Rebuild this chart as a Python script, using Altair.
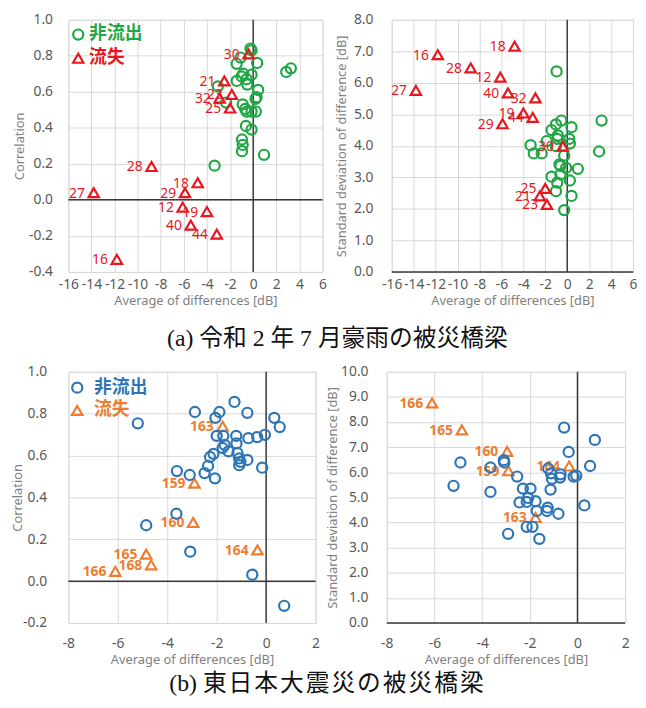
import altair as alt
import pandas as pd

# ---------------- (a) 令和2年7月豪雨 ----------------
a_loss_id = ["12", "16", "18", "19", "21", "23", "25", "27", "28", "29", "30", "32", "40", "44"]
a_loss_avg = [-6.1, -11.8, -4.8, -4.0, -2.5, -1.85, -2.0, -13.8, -8.8, -5.9, -0.4, -2.9, -5.4, -3.15]
a_loss_corr = [-0.04, -0.33, 0.095, -0.065, 0.66, 0.585, 0.51, 0.04, 0.185, 0.04, 0.81, 0.565, -0.14, -0.19]
a_loss_sd = [6.18, 6.89, 7.16, 5.04, 2.41, 2.14, 2.65, 5.76, 6.47, 4.70, 3.99, 5.52, 5.68, 4.90]

a_non_avg_c = [-0.23, -0.14, -1.09, -1.43, 0.34, -0.86, -0.14, -1.0, -1.43, -0.57, -0.51, -3.06, 0.43,
               0.29, 0.2, -2.34, -0.91, -0.69, -0.57, 0.23, -0.14, -0.63, -0.14, -0.97, -0.91, -0.97,
               0.94, -3.34, 2.86, 3.26]
a_non_corr = [0.84, 0.83, 0.79, 0.755, 0.76, 0.70, 0.695, 0.685, 0.66, 0.67, 0.64, 0.63, 0.61,
              0.57, 0.56, 0.54, 0.53, 0.505, 0.49, 0.49, 0.49, 0.41, 0.39, 0.335, 0.305, 0.27,
              0.25, 0.19, 0.71, 0.73]

a_non_avg_s = [-0.97, 3.13, 2.9, 0.39, -0.54, -1.03, -1.43, -0.86, -0.91, 0.18, -1.87, -1.03, 0.24,
               -3.34, -3.05, -2.33, -0.28, -0.71, -0.62, -0.1, 0.97, -1.43, -0.62, 0.24, -0.91,
               -1.03, 0.39, -0.28]
a_non_sd = [6.36, 4.80, 3.82, 4.59, 4.80, 4.68, 4.50, 4.33, 4.22, 4.22, 4.15, 3.99, 4.07,
            4.02, 3.76, 3.76, 3.69, 3.41, 3.36, 3.30, 3.27, 3.02, 3.09, 2.90, 2.83,
            2.56, 2.41, 1.96]

# ---------------- (b) 東日本大震災 ----------------
b_loss_id = ["159", "160", "163", "164", "165", "166", "168"]
b_loss_avg = [-2.9, -2.95, -1.76, -0.35, -4.85, -6.1, -4.65]
b_loss_corr = [0.468, 0.28, 0.74, 0.149, 0.129, 0.047, 0.078]
b_loss_sd = [6.06, 6.83, 4.20, 6.25, 7.69, 8.76, None]

b_non_avg_c = [-1.28, -2.88, -1.89, -0.76, -2.05, 0.33, 0.55, -5.19, -2.0, -1.73, -1.21, -0.72,
               -0.36, -0.05, -1.2, -1.68, -1.76, -1.52, -2.13, -2.27, -1.16, -1.09, -0.76, -1.09,
               -1.04, -2.35, -0.16, -2.49, -3.61, -3.09, -2.07, -3.63, -4.85, -3.07, -0.56, 0.73]
b_non_corr = [0.856, 0.808, 0.808, 0.804, 0.78, 0.78, 0.736, 0.754, 0.694, 0.694, 0.694, 0.683,
              0.688, 0.699, 0.658, 0.651, 0.636, 0.62, 0.608, 0.593, 0.612, 0.586, 0.579, 0.554,
              0.57, 0.55, 0.542, 0.516, 0.526, 0.507, 0.491, 0.322, 0.267, 0.141, 0.031, -0.118]

b_non_avg_s = [-0.56, 0.73, -0.37, -4.91, -3.09, -3.07, -3.65, 0.53, -1.23, -1.11, -0.71, -0.73,
               -1.07, -0.16, -0.05, -2.53, -5.2, -3.65, -2.29, -1.97, -1.13, -1.76, -2.13, -2.43,
               -1.71, -1.25, -1.28, -0.8, 0.29, -2.13, -1.89, -2.91, -1.6, -2.07]
b_non_sd = [7.78, 7.29, 6.81, 6.39, 6.48, 6.39, 6.19, 6.25, 6.15, 5.96, 5.92, 5.79,
            5.74, 5.83, 5.87, 5.83, 5.46, 5.22, 5.35, 5.35, 5.31, 4.85, 4.82, 4.80,
            4.46, 4.59, 4.46, 4.35, 4.68, 3.83, 3.83, 3.55, 3.35, 4.98]

# ticks
x_ticks_a = [-16, -14, -12, -10, -8, -6, -4, -2, 0, 2, 4, 6]
x_ticks_b = [-8, -6, -4, -2, 0, 2]
y_corr_a = [-0.4, -0.2, 0.0, 0.2, 0.4, 0.6, 0.8, 1.0]
y_corr_b = [-0.2, 0.0, 0.2, 0.4, 0.6, 0.8, 1.0]
y_sd_a = [0, 1, 2, 3, 4, 5, 6, 7, 8]
y_sd_b = [0, 1, 2, 3, 4, 5, 6, 7, 8, 9, 10]

series_names = ["非流出", "流失"]
caption_a = "(a)  令和 2 年 7 月豪雨の被災橋梁"
caption_b = "(b)  東\u200a日\u200a本\u200a大\u200a震\u200a災\u200aの\u200a被\u200a災\u200a橋\u200a梁"

GREEN, RED = "#1FA745", "#E8161F"
BLUE, ORANGE = "#2E75B6", "#ED7D31"
FONT = "Noto Sans, Noto Sans CJK JP"
CJK = "Noto Sans CJK JP"
LABEL_C = "#595959"
TITLE_C = "#7F7F7F"


def neg_fmt(spec):
    return ("datum.value < 0 ? '-' + format(-datum.value, '%s') : format(datum.value, '%s')"
            % (spec, spec))


def panel(non_x, non_y, ids, loss_x, loss_y, xt, yt, ytitle, title_x, title_pad, xlab_pad,
          ylab_pad, c_non, c_loss, bold, legend, w, h, front_circles):
    xs = alt.Scale(domain=[xt[0], xt[-1]], nice=False, zero=False)
    ys = alt.Scale(domain=[yt[0], yt[-1]], nice=False, zero=False)
    xax = alt.Axis(values=xt, title="Average of differences [dB]", labelExpr=neg_fmt("d"),
                   grid=True, gridColor="#D9D9D9", domain=False, ticks=False, tickSize=0,
                   labelOverlap=False, labelFlush=False, labelPadding=xlab_pad,
                   labelFontSize=14, labelColor=LABEL_C, labelFont=FONT,
                   titleFontSize=13, titleFontWeight="normal", titleColor=TITLE_C,
                   titleFont=FONT, titlePadding=3)
    yax = alt.Axis(values=yt, title=ytitle, labelExpr=neg_fmt(".1f"),
                   grid=True, gridColor="#D9D9D9", domain=False, ticks=False, tickSize=0,
                   labelOverlap=False, labelFlush=False, labelPadding=ylab_pad,
                   labelFontSize=14, labelColor=LABEL_C, labelFont=FONT,
                   titleFontSize=13, titleFontWeight="normal", titleColor=TITLE_C,
                   titleFont=FONT, titlePadding=title_pad, titleX=title_x, titleY=h / 2)
    X = alt.X("x:Q", scale=xs, axis=xax)
    Y = alt.Y("y:Q", scale=ys, axis=yax)

    non_df = pd.DataFrame({"x": non_x, "y": non_y})
    loss_df = pd.DataFrame({"id": ids, "x": loss_x, "y": loss_y}).dropna()
    one = pd.DataFrame({"k": [0]})

    rule_x = alt.Chart(one).mark_rule(color="#3A3A3A", strokeWidth=1.5).encode(
        x=alt.XDatum(0, type="quantitative", scale=xs, axis=xax))
    rule_y = alt.Chart(one).mark_rule(color="#3A3A3A", strokeWidth=1.5).encode(
        y=alt.YDatum(0, type="quantitative", scale=ys, axis=yax))
    circles = alt.Chart(non_df).mark_point(
        shape="circle", filled=False, size=105, strokeWidth=2.2, color=c_non, opacity=1
    ).encode(x=X, y=Y)
    tris = alt.Chart(loss_df).mark_point(
        shape="triangle-up", filled=False, size=110, strokeWidth=2.2, color=c_loss, opacity=1
    ).encode(x=X, y=Y)
    labels = alt.Chart(loss_df).mark_text(
        align="right", baseline="middle", dx=-9, dy=1, fontSize=14,
        fontWeight="bold" if bold else "normal", color=c_loss, font=FONT
    ).encode(x=X, y=Y, text="id:N")

    layers = [rule_x, rule_y]
    if front_circles:
        layers += [labels, tris, circles]
    else:
        layers += [circles, tris, labels]

    if legend:
        lx, ly1, ly2, tx = legend
        layers += [
            alt.Chart(one).mark_point(shape="circle", filled=False, size=105, strokeWidth=2.2,
                                      color=c_non, opacity=1).encode(
                x=alt.value(lx), y=alt.value(ly1)),
            alt.Chart(one).mark_point(shape="triangle-up", filled=False, size=110, strokeWidth=2.2,
                                      color=c_loss, opacity=1).encode(
                x=alt.value(lx), y=alt.value(ly2)),
            alt.Chart(one).mark_text(align="left", baseline="middle", fontSize=18,
                                     fontWeight="bold", color=c_non, font=CJK,
                                     text=series_names[0]).encode(
                x=alt.value(tx), y=alt.value(ly1)),
            alt.Chart(one).mark_text(align="left", baseline="middle", fontSize=18,
                                     fontWeight="bold", color=c_loss, font=CJK,
                                     text=series_names[1]).encode(
                x=alt.value(tx), y=alt.value(ly2)),
        ]
    return alt.layer(*layers).properties(width=w, height=h)


a1 = panel(a_non_avg_c, a_non_corr, a_loss_id, a_loss_avg, a_loss_corr, x_ticks_a, y_corr_a,
           "Correlation", -42, 0, 6, 16, GREEN, RED, False, (10, 15, 39, 21), 257, 255, False)
a2 = panel(a_non_avg_s, a_non_sd, a_loss_id, a_loss_avg, a_loss_sd, x_ticks_a, y_sd_a,
           "Standard deviation of difference [dB]", -44, 4, 6, 19, GREEN, RED, False, None,
           244, 255, False)
b1 = panel(b_non_avg_c, b_non_corr, b_loss_id, b_loss_avg, b_loss_corr, x_ticks_b, y_corr_b,
           "Correlation", -44, 3, 14, 22, BLUE, ORANGE, True, (9, 16, 39, 26), 250, 254, True)
b2 = panel(b_non_avg_s, b_non_sd, b_loss_id, b_loss_avg, b_loss_sd, x_ticks_b, y_sd_b,
           "Standard deviation of difference [dB]", -48, 2, 14, 19, BLUE, ORANGE, True, None,
           241, 254, True)


def cap(text, off, dx):
    return alt.TitleParams(text, orient="bottom", anchor="middle", fontSize=24,
                           fontWeight="normal", color="#111111", dx=dx,
                           font="Liberation Serif, Noto Sans CJK JP", offset=off)


row_a = alt.hconcat(a1, a2, spacing=7).properties(title=cap(caption_a, 19, 12))
row_b = alt.hconcat(b1, b2, spacing=5).properties(title=cap(caption_b, 5, 6))

chart = alt.vconcat(row_a, row_b, spacing=13).properties(
    padding={"left": 3, "right": 0, "top": 0, "bottom": 0}
).configure_view(stroke=None).configure(background="white")

chart.save("out.html", embed_options={"renderer": "svg", "actions": False})
